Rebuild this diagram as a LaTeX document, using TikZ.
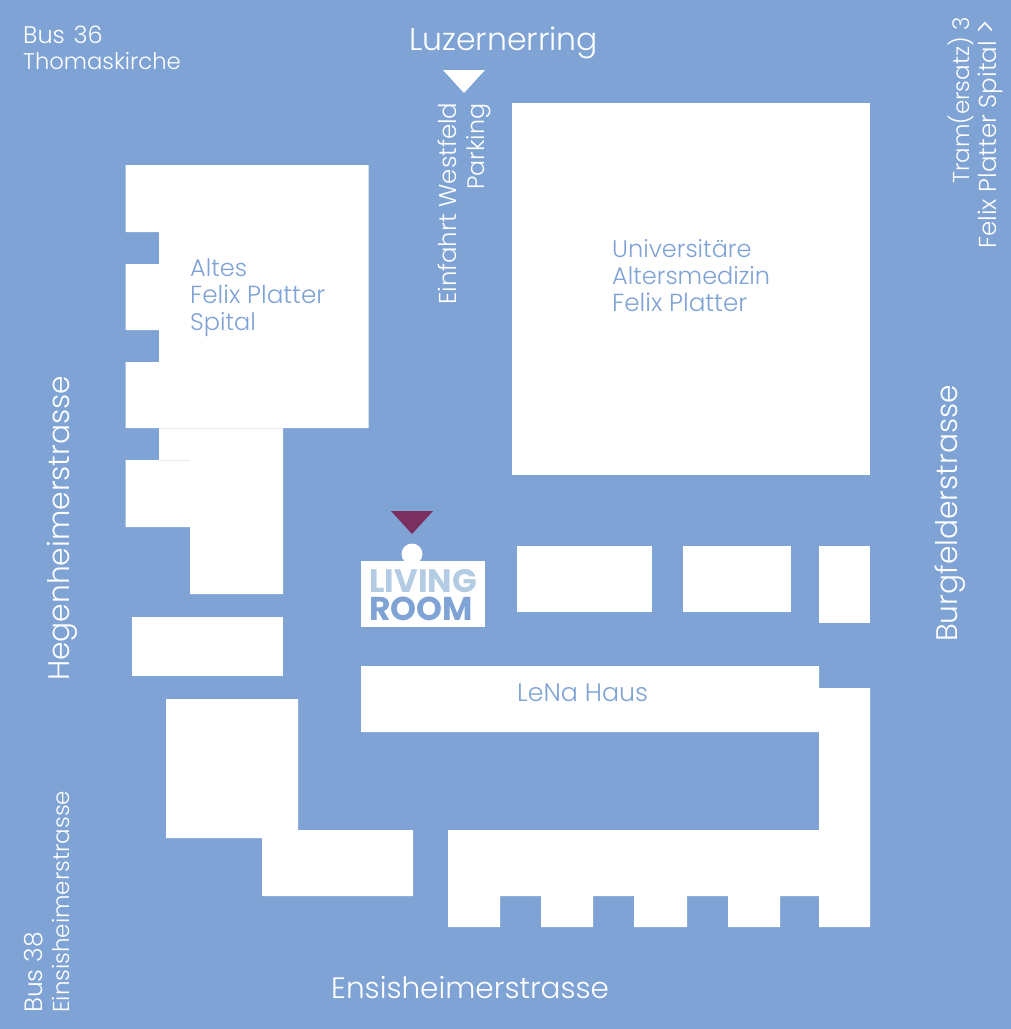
\documentclass[tikz,border=0pt]{standalone}
\usepackage{fontspec}
\setmainfont{Poppins}[UprightFont=* Light,BoldFont=* Bold]
\definecolor{mapblue}{HTML}{7FA3D5}
\definecolor{lightblue}{HTML}{B3CCE3}
\definecolor{plum}{HTML}{7B2F5E}
\definecolor{seam}{HTML}{E6ECF5}
\tikzset{
  bldg/.style={fill=white,draw=none},
  lab/.style={inner sep=0pt,anchor=base west,align=left},
  whitetxt/.style={lab,text=white},
  bluetxt/.style={lab,text=mapblue},
}
\newcommand{\fs}[1]{\fontsize{#1}{#1}\selectfont}
\begin{document}
\begin{tikzpicture}[x=1pt,y=-1pt]
\useasboundingbox (0,0) rectangle (1011,1029);
\fill[mapblue] (0,0) rectangle (1011,1029);
% Altes Felix Platter Spital
\fill[bldg] (125.5,165) -- (368.5,165) -- (368.5,428) -- (283,428) -- (283,594) -- (190,594) -- (190,527) -- (125.5,527) -- (125.5,460) -- (159,460) -- (159,428) -- (125.5,428) -- (125.5,362) -- (159,362) -- (159,330) -- (125.5,330) -- (125.5,264) -- (159,264) -- (159,232) -- (125.5,232) -- cycle;
\draw[seam,line width=0.6pt] (159,428.5) -- (283,428.5);
\draw[seam,line width=0.6pt] (159,460.3) -- (190,460.3);
\fill[bldg] (132,617) rectangle (283,676);
\fill[bldg] (166,699) -- (298,699) -- (298,830) -- (413,830) -- (413,896) -- (262,896) -- (262,838) -- (166,838) -- cycle;
% Universitaere Altersmedizin
\fill[bldg] (512,103) rectangle (870,475);
\fill[bldg] (517,546) rectangle (652,612);
\fill[bldg] (683,546) rectangle (791,612);
\fill[bldg] (819,546) rectangle (870,623);
% LeNa Haus
\fill[bldg] (361,666) -- (819,666) -- (819,688) -- (870,688) -- (870,927) -- (819,927) -- (819,896) -- (780,896) -- (780,927) -- (728,927) -- (728,896) -- (687,896) -- (687,927) -- (634,927) -- (634,896) -- (593,896) -- (593,927) -- (541,927) -- (541,896) -- (500,896) -- (500,927) -- (448,927) -- (448,830) -- (819,830) -- (819,732) -- (361,732) -- cycle;
% Living Room
\fill[bldg] (361,561) rectangle (485,627);
\fill[bldg] (412,554) circle (10.5);
\fill[plum] (391,511) -- (433,511) -- (412,534) -- cycle;
\fill[white] (443,70) -- (485,70) -- (464,93) -- cycle;
\node[lab,text=lightblue,font=\fs{32.5}\bfseries] (living) at (369,592) {LIVING};
\node[lab,text=mapblue,font=\fs{33}\bfseries] (room) at (369,620) {ROOM};
% labels
\node[whitetxt,font=\fs{24}] (bus) at (23,43) {Bus\hspace{2pt} 36};
\node[whitetxt,font=\fs{22.7}] (thomas) at (23,69.5) {Thomaskirche};
\node[whitetxt,font=\fs{31.5}] (luzern) at (409,50) {Luzernerring};
\node[whitetxt,font=\fs{29.5}] (ens) at (331,998) {Ensisheimerstrasse};
\node[whitetxt,font=\fs{29.7},rotate=90] (heg) at (69,681) {Hegenheimerstrasse};
\node[whitetxt,font=\fs{29.7},rotate=90] (burg) at (957.5,642) {Burgfelderstrasse};
\node[whitetxt,font=\fs{23},rotate=90] (ens2) at (69,1013) {Einsisheimerstrasse};
\node[whitetxt,font=\fs{25},rotate=90] (bus38) at (42,1013) {Bus 38};
\node[whitetxt,font=\fs{24.4},rotate=90] (einf) at (456,305) {Einfahrt Westfeld};
\node[whitetxt,font=\fs{23.8},rotate=90] (park) at (484,190) {Parking};
\node[whitetxt,font=\fs{23},rotate=90] (tram) at (969,184) {Tram(ersatz) 3};
\node[whitetxt,font=\fs{24.5},rotate=90] (fp) at (996,249) {Felix Platter Spital {\fontsize{30}{30}\selectfont >}};
\node[bluetxt,font=\fs{24}] (a1) at (190,276) {Altes};
\node[bluetxt,font=\fs{24.7}] (a2) at (190,303) {Felix Platter};
\node[bluetxt,font=\fs{24}] (a3) at (190,330) {Spital};
\node[bluetxt,font=\fs{24}] (u1) at (612,257) {Universitäre};
\node[bluetxt,font=\fs{24}] (u2) at (612,284) {Altersmedizin};
\node[bluetxt,font=\fs{24.7}] (u3) at (612,311) {Felix Platter};
\node[bluetxt,font=\fs{25.3}] (lena) at (517,701) {LeNa Haus};
\end{tikzpicture}
\end{document}
